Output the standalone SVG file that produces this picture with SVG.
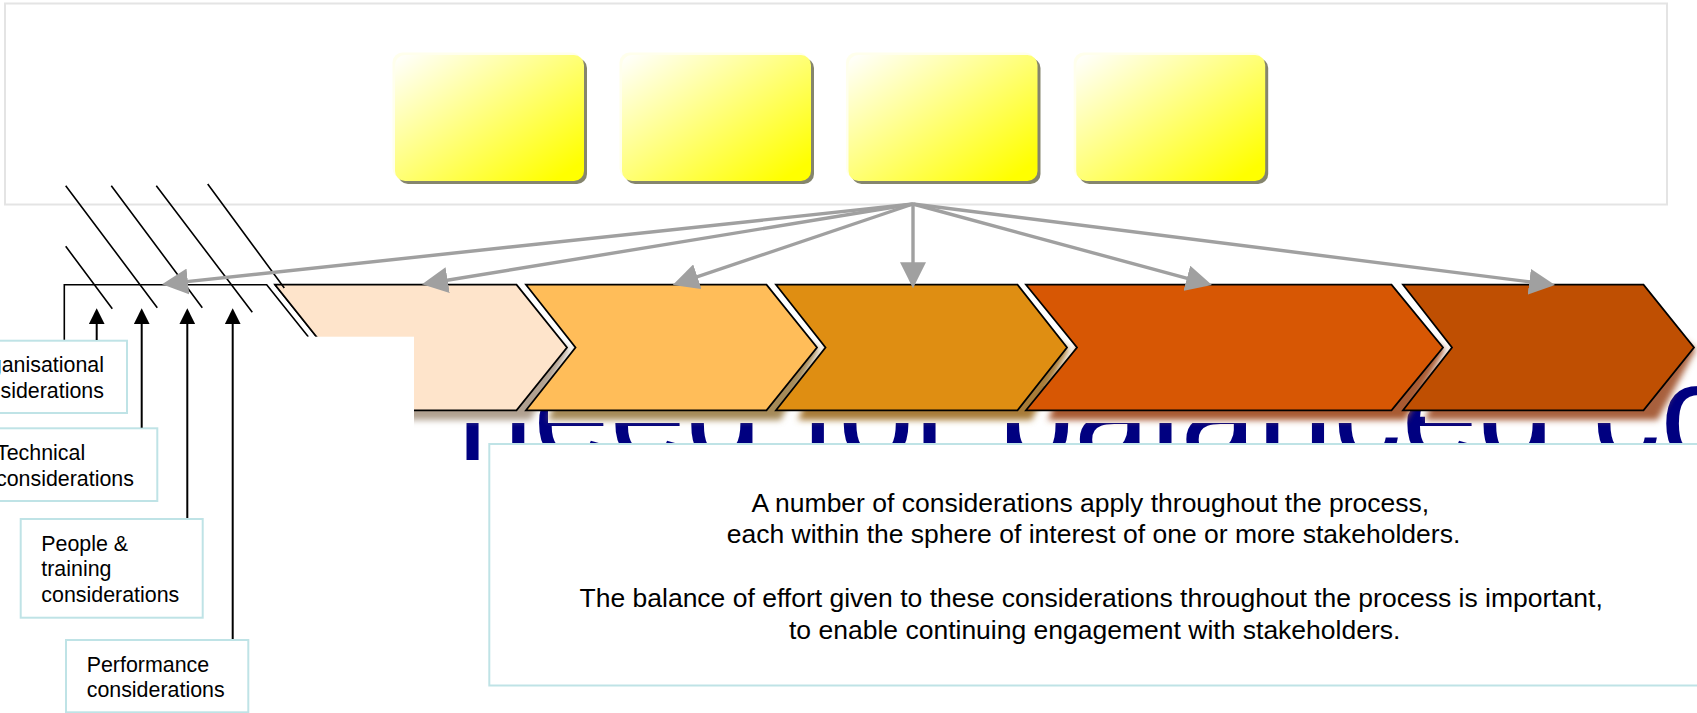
<svg xmlns="http://www.w3.org/2000/svg" width="1697" height="713" viewBox="0 0 1697 713">
<style>
text{font-family:"Liberation Sans",Arial,sans-serif;fill:#000}
.lbl{font-size:21.4px}
.main{font-size:26.5px}
.box{fill:#fff;stroke:#BFE3E6;stroke-width:2}
.chev{stroke:#000;stroke-width:1.8;stroke-linejoin:miter}
.mat{fill:#fff}
.sh{filter:url(#blur)}
.gr{stroke:#A0A0A0;stroke-width:3.4;fill:none;marker-end:url(#gh)}
.bk{stroke:#000;stroke-width:2;fill:none;marker-end:url(#bh)}
.diag{stroke:#000;stroke-width:1.6;fill:none}
.y{fill:url(#yg)}
.yh{fill:#FFFFEC}
.ys{fill:#85856D}
</style>
<defs>
<linearGradient id="yg" x1="0" y1="0" x2="1" y2="1"><stop offset="0" stop-color="#fff"/><stop offset="0.92" stop-color="#ff0"/></linearGradient>
<filter id="blur" x="-10%" y="-20%" width="120%" height="140%"><feGaussianBlur stdDeviation="3"/></filter>
<marker id="gh" markerUnits="userSpaceOnUse" markerWidth="26" markerHeight="26" viewBox="0 0 25 25" refX="17" refY="12.5" orient="auto"><path d="M0 0L25 12.5L0 25Z" fill="#A0A0A0"/></marker>
<marker id="bh" markerUnits="userSpaceOnUse" markerWidth="16" markerHeight="16" viewBox="0 0 16 16" refX="12" refY="8" orient="auto"><path d="M0 0L16 8L0 16Z" fill="#000"/></marker>
</defs>
<rect width="1697" height="713" fill="#fff"/>
<rect id="panel" x="5" y="3.5" width="1662" height="201" fill="#fff" stroke="#E4E4E4" stroke-width="2"/>
<g id="y1"><rect class="yh" x="392.5" y="52.5" width="189" height="126" rx="10"/><rect class="ys" x="398" y="58" width="189" height="126" rx="10"/><rect class="y" x="395" y="55" width="189" height="126" rx="10"/></g>
<g id="y2"><rect class="yh" x="619.5" y="52.5" width="189" height="126" rx="10"/><rect class="ys" x="625" y="58" width="189" height="126" rx="10"/><rect class="y" x="622" y="55" width="189" height="126" rx="10"/></g>
<g id="y3"><rect class="yh" x="846" y="52.5" width="189" height="126" rx="10"/><rect class="ys" x="851.5" y="58" width="189" height="126" rx="10"/><rect class="y" x="848.5" y="55" width="189" height="126" rx="10"/></g>
<g id="y4"><rect class="yh" x="1073.7" y="52.5" width="189" height="126" rx="10"/><rect class="ys" x="1079.2" y="58" width="189" height="126" rx="10"/><rect class="y" x="1076.2" y="55" width="189" height="126" rx="10"/></g>
<text id="title" x="457" y="460" font-size="137" style="fill:#000080">need for balanced co</text>
<g id="frame">
<path class="diag" d="M64.3 340V284.7H266.7L308.3 336.7M275 284.7L316.7 336.7"/>
</g>
<g id="step1">
<polygon class="mat" points="297,405 538.5,405 528.5,423 297,423"/>
<polygon class="sh" fill="#B0A090" points="335,300 496.5,300 569,349 530.5,420 297,420 325,350"/>
<polygon class="chev" fill="#FEE4CB" points="275,284.7 516.5,284.7 567,347.5 516.5,410.3 275,410.3 325,347.5"/>
</g>
<g id="step2">
<polygon class="mat" points="548,405 788.5,405 778.5,423 548,423"/>
<polygon class="sh" fill="#A58A58" points="586,300 746.5,300 819,349 780.5,420 548,420 576,350"/>
<polygon class="chev" fill="#FFBD59" points="526,284.7 766.5,284.7 817,347.5 766.5,410.3 526,410.3 575.5,347.5"/>
</g>
<g id="step3">
<polygon class="mat" points="798,405 1039.5,405 1029.5,423 798,423"/>
<polygon class="sh" fill="#A87C38" points="836,300 997.5,300 1069,349 1031.5,420 798,420 826,350"/>
<polygon class="chev" fill="#DF8E12" points="776,284.7 1017.5,284.7 1067,347.5 1017.5,410.3 776,410.3 825.5,347.5"/>
</g>
<g id="step4">
<polygon class="mat" points="1048,405 1413.5,405 1403.5,423 1048,423"/>
<polygon class="sh" fill="#A85A30" points="1086,300 1371.5,300 1445,349 1405.5,420 1048,420 1077,350"/>
<polygon class="chev" fill="#D75704" points="1026,284.7 1391.5,284.7 1443,347.5 1391.5,410.3 1026,410.3 1077,347.5"/>
</g>
<g id="step5">
<polygon class="mat" points="1425,405 1665.5,405 1655.5,423 1425,423"/>
<polygon class="sh" fill="#A8603C" points="1463,300 1623.5,300 1696,349 1657.5,420 1425,420 1453,350"/>
<polygon class="chev" fill="#BF4F02" points="1403,284.7 1643.5,284.7 1694,347.5 1643.5,410.3 1403,410.3 1452,347.5"/>
</g>
<rect id="mask" x="240" y="336.7" width="174" height="94" fill="#fff"/>
<g id="diagonals">
<path class="diag" d="M65.7 185.7L157.3 307.7M111.3 185.7L202.3 307.7M156.3 185.7L252.3 312.3M207.7 184L284.3 288M65.7 246.3L112.3 308.7"/>
</g>
<g id="b1" class="node"><rect class="box" x="-55" y="340.7" width="182" height="72.3"/><text class="lbl" x="-34" y="372">Organisational</text><text class="lbl" x="-34" y="398">considerations</text></g>
<g id="b2" class="node"><rect class="box" x="-25" y="428.3" width="182.3" height="72.7"/><text class="lbl" x="-4" y="460">Technical</text><text class="lbl" x="-4" y="485.7">considerations</text></g>
<g id="b3" class="node"><rect class="box" x="20.7" y="519" width="182" height="98.7"/><text class="lbl" x="41.3" y="550.7">People &amp;</text><text class="lbl" x="41.3" y="576">training</text><text class="lbl" x="41.3" y="601.7">considerations</text></g>
<g id="b4" class="node"><rect class="box" x="66" y="640" width="182.3" height="72.3"/><text class="lbl" x="86.7" y="671.7">Performance</text><text class="lbl" x="86.7" y="696.7">considerations</text></g>
<g id="note" class="node"><rect class="box" x="489.3" y="444" width="1225" height="241.5"/>
<text class="main" x="751.5" y="511.5">A number of considerations apply throughout the process,</text>
<text class="main" x="726.7" y="543.2">each within the sphere of interest of one or more stakeholders.</text>
<text class="main" x="579.5" y="607.2">The balance of effort given to these considerations throughout the process is important,</text>
<text class="main" x="789" y="639">to enable continuing engagement with stakeholders.</text>
</g>
<g id="connectors">
<path class="bk" d="M96.7 340V312.3"/>
<path class="bk" d="M141.7 427.7V312.3"/>
<path class="bk" d="M187.3 518V312.3"/>
<path class="bk" d="M232.7 639V312.3"/>
<path class="gr" d="M913 204L170.3 283.4"/>
<path class="gr" d="M913 204L430.2 283"/>
<path class="gr" d="M913 204L680.6 282.4"/>
<path class="gr" d="M913 204V280"/>
<path class="gr" d="M913 204L1203.9 282.9"/>
<path class="gr" d="M913 204L1546.8 284"/>
</g>
</svg>
